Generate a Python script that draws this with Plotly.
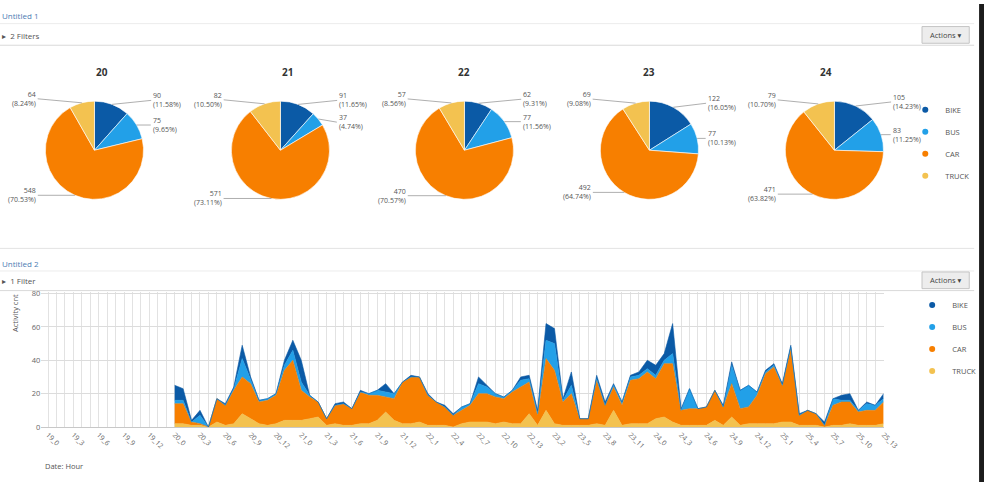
import math
import plotly.graph_objects as go

W, H = 1000, 487

# ---------------- data ----------------
VEHICLES = ["BIKE", "BUS", "CAR", "TRUCK"]
COLORS = {"BIKE": "#0b5aa6", "BUS": "#22a0e8", "CAR": "#f77f00", "TRUCK": "#f3c250"}

pie_days = ["20", "21", "22", "23", "24"]
pie_bike = [90, 91, 62, 122, 105]
pie_bus = [75, 37, 77, 77, 83]
pie_car = [548, 571, 470, 492, 471]
pie_truck = [64, 82, 57, 69, 79]

DAYS = [19, 20, 21, 22, 23, 24, 25]
HOURS_PER_DAY = [15, 15, 14, 14, 14, 14, 14]
categories = [f"{d}_{h}" for d, n in zip(DAYS, HOURS_PER_DAY) for h in range(n)]
tick_labels = [c if i % 3 == 0 else "" for i, c in enumerate(categories)]
data_categories = categories[15:]  # values exist from 20_0 on

hourly_truck = [2, 2, 1, 1, 0, 3, 1, 2, 8, 5, 2, 1, 2, 4, 4,
                4, 5, 6, 1, 2, 1, 1, 2, 2, 4, 9, 4, 2, 2,
                3, 1, 1, 1, 0, 2, 3, 3, 3, 2, 3, 2, 2, 8,
                1, 10, 2, 1, 1, 1, 1, 2, 1, 10, 1, 2, 2, 2,
                5, 6, 3, 1, 1, 1, 1, 4, 1, 6, 1, 2, 2, 2,
                2, 3, 3, 1, 1, 1, 0, 1, 1, 2, 1, 1, 1, 2]
hourly_car = [12, 12, 2, 1, 0, 14, 12, 20, 22, 21, 13, 15, 17, 30, 36,
              18, 13, 9, 4, 11, 13, 10, 19, 17, 15, 9, 13, 25, 28,
              27, 18, 14, 11, 7, 8, 10, 17, 17, 16, 14, 19, 22, 19,
              6, 31, 32, 14, 19, 4, 4, 26, 12, 14, 12, 26, 27, 31,
              24, 32, 35, 9, 10, 10, 11, 18, 11, 20, 10, 10, 17, 30,
              34, 22, 44, 6, 9, 7, 1, 12, 14, 13, 8, 9, 9, 13]
hourly_bus = [2, 2, 0, 5, 0, 0, 0, 1, 11, 3, 1, 1, 1, 3, 6,
              5, 1, 0, 0, 0, 0, 0, 0, 1, 3, 3, 3, 0, 0,
              0, 0, 0, 0, 0, 2, 1, 6, 4, 2, 1, 1, 4, 2,
              1, 11, 16, 1, 5, 0, 0, 1, 0, 1, 2, 2, 2, 2,
              2, 2, 6, 0, 12, 0, 0, 0, 0, 11, 11, 13, 2, 1,
              1, 0, 1, 0, 0, 0, 0, 4, 1, 1, 1, 4, 3, 2]
hourly_bike = [9, 7, 1, 3, 0, 0, 1, 1, 8, 1, 0, 0, 0, 3, 6,
               13, 0, 0, 0, 1, 1, 0, 1, 0, 0, 5, 0, 0, 1,
               0, 1, 0, 1, 1, 0, 0, 4, 1, 0, 0, 0, 2, 2,
               2, 10, 9, 1, 8, 0, 0, 2, 2, 1, 0, 1, 2, 5,
               6, 4, 18, 1, 0, 0, 0, 0, 1, 2, 0, 0, 0, 1,
               1, 1, 1, 1, 0, 0, 2, 0, 3, 4, 0, 1, 0, 3]

y_ticks = [0, 20, 40, 60, 80]

# ---------------- helpers ----------------
def px(x):
    return x / W


def py(y):
    return 1 - y / H


FONT = "Open Sans, Lato, DejaVu Sans, sans-serif"
fig = go.Figure()
annotations = []
shapes = []

# ---------------- pies ----------------
pie_cx = [96, 285, 472, 660, 848]
pie_cy = 149
R = 50
for i, day in enumerate(pie_days):
    vals = [pie_bike[i], pie_bus[i], pie_car[i], pie_truck[i]]
    cx = pie_cx[i]
    fig.add_trace(go.Pie(
        labels=VEHICLES, values=vals, sort=False, direction="clockwise", rotation=0,
        marker=dict(colors=[COLORS[v] for v in VEHICLES], line=dict(color="white", width=0.6)),
        textinfo="none", hoverinfo="label+value+percent", showlegend=False,
        domain=dict(x=[px(cx - R), px(cx + R)], y=[py(pie_cy + R), py(pie_cy - R)]),
    ))
    annotations.append(dict(x=px(cx), y=py(60), xref="paper", yref="paper", text=f"<b>{day}</b>",
                            showarrow=False, font=dict(size=10, color="#333", family=FONT)))
    total = sum(vals)
    cum = 0
    items = []
    for v in vals:
        mid = (cum + v / 2) / total * 2 * math.pi
        cum += v
        ex = cx + R * math.sin(mid)
        ey = pie_cy - R * math.cos(mid)
        side = 1 if math.sin(mid) >= 0 else -1
        items.append([side, ex, ey, ey - 4 if math.cos(mid) > 0.7 else ey, f"{v}<br>({v / total * 100:.2f}%)"])
    for side in (1, -1):
        grp = sorted([it for it in items if it[0] == side], key=lambda t: t[3])
        for j in range(1, len(grp)):
            if grp[j][3] - grp[j - 1][3] < 22:
                grp[j][3] = grp[j - 1][3] + 22
    for side, ex, ey, ly, txt in items:
        lx = cx + side * (R + 7)
        annotations.append(dict(
            x=px(ex), y=py(ey), xref="paper", yref="paper", text=txt, showarrow=True,
            arrowhead=0, arrowwidth=0.8, arrowcolor="#9a9a9a", ax=lx - ex, ay=ly - ey,
            xanchor="left" if side > 0 else "right", yanchor="middle",
            align="left" if side > 0 else "right",
            font=dict(size=7, color="#555", family=FONT),
        ))

# ---------------- stacked areas ----------------
series = [("TRUCK", hourly_truck), ("CAR", hourly_car), ("BUS", hourly_bus), ("BIKE", hourly_bike)]
for name, vals in series:
    fig.add_trace(go.Scatter(
        x=data_categories, y=vals, name=name, mode="lines", stackgroup="one",
        line=dict(width=0.6, color=COLORS[name]), fillcolor=COLORS[name],
        showlegend=False, xaxis="x", yaxis="y",
    ))

# legend-only entries (dots) for both panels
for lg in ("legend", "legend2"):
    for name in VEHICLES:
        fig.add_trace(go.Scatter(
            x=[None], y=[None], mode="markers", name=name, legend=lg, legendgroup=lg + name,
            marker=dict(color=COLORS[name], size=6), xaxis="x", yaxis="y",
        ))

# ---------------- page chrome ----------------
def hline(y, color="#e3e3e3"):
    shapes.append(dict(type="line", xref="paper", yref="paper", x0=0, x1=px(990), y0=py(y), y1=py(y),
                       line=dict(color=color, width=1)))

hline(20, "#ececec")
hline(42, "#d9d9d9")
hline(249, "#e3e3e3")
hline(272, "#ececec")
hline(292, "#d9d9d9")

for ytop in (23, 273):
    shapes.append(dict(type="rect", xref="paper", yref="paper", x0=px(937), x1=px(985),
                       y0=py(ytop + 17), y1=py(ytop), fillcolor="#ededed",
                       line=dict(color="#c4c4c4", width=1)))
    annotations.append(dict(x=px(961), y=py(ytop + 8.5), xref="paper", yref="paper", text="Actions ▾",
                            xanchor="center", yanchor="middle",
                            showarrow=False, font=dict(size=7.5, color="#444", family=FONT)))

shapes.append(dict(type="rect", xref="paper", yref="paper", x0=px(995), x1=1, y0=0, y1=1,
                   fillcolor="#1c1c1c", line=dict(width=0)))

for txt, y, col in [("Untitled 1", 12, "#4d7db3"), ("▸  2 Filters", 32, "#555"),
                    ("Untitled 2", 264, "#4d7db3"), ("▸  1 Filter", 282, "#555")]:
    annotations.append(dict(x=0, y=py(y), xref="paper", yref="paper", text=txt, showarrow=False,
                            xanchor="left", yanchor="middle", font=dict(size=8, color=col, family=FONT)))

annotations.append(dict(x=px(8), y=py(315), xref="paper", yref="paper", text="Activity cnt",
                        textangle=-90, showarrow=False, font=dict(size=7.5, color="#555", family=FONT)))
annotations.append(dict(x=px(44), y=py(478), xref="paper", yref="paper", text="Date: Hour",
                        xanchor="left", showarrow=False, font=dict(size=7.5, color="#555", family=FONT)))

fig.update_layout(
    width=W, height=H, margin=dict(l=0, r=0, t=0, b=0),
    paper_bgcolor="white", plot_bgcolor="white",
    font=dict(family=FONT, size=8, color="#555"),
    xaxis=dict(domain=[px(42), px(898)], type="category", categoryorder="array",
               categoryarray=categories, range=[-0.8, len(categories) - 1],
               tickmode="array", tickvals=categories, ticktext=tick_labels, tickangle=45,
               tickfont=dict(size=7, color="#666"), showgrid=True, gridcolor="#e2e2e2", gridwidth=1,
               showline=True, linecolor="#c8c8c8", zeroline=False, fixedrange=True),
    yaxis=dict(domain=[py(431), py(431 - 81 * 1.7)], range=[0, 81], tickvals=y_ticks,
               tickfont=dict(size=7.5, color="#666"), showgrid=True, gridcolor="#dcdcdc",
               zeroline=False, showline=False, fixedrange=True),
    legend=dict(x=px(920), y=py(93), xanchor="left", yanchor="top", tracegroupgap=3,
                font=dict(size=7.5, color="#555"), bgcolor="rgba(0,0,0,0)"),
    legend2=dict(x=px(927), y=py(292), xanchor="left", yanchor="top", tracegroupgap=3,
                 font=dict(size=7.5, color="#555"), bgcolor="rgba(0,0,0,0)"),
    annotations=annotations, shapes=shapes,
)

page_js = ("var s=document.createElement('style');"
           "s.textContent='html,body{margin:0!important;padding:0!important;overflow:hidden!important;}';"
           "document.head.appendChild(s);"
           "var gd=document.getElementById('{plot_id}');"
           "var w=document.documentElement.clientWidth||window.innerWidth;"
           "var h=document.documentElement.clientHeight||window.innerHeight;"
           "if(w>0&&h>0&&(w!==1000||h!==487)){Plotly.relayout(gd,{width:w,height:h});}")
fig.write_html("out.html", config={"displayModeBar": False}, post_script=page_js)
